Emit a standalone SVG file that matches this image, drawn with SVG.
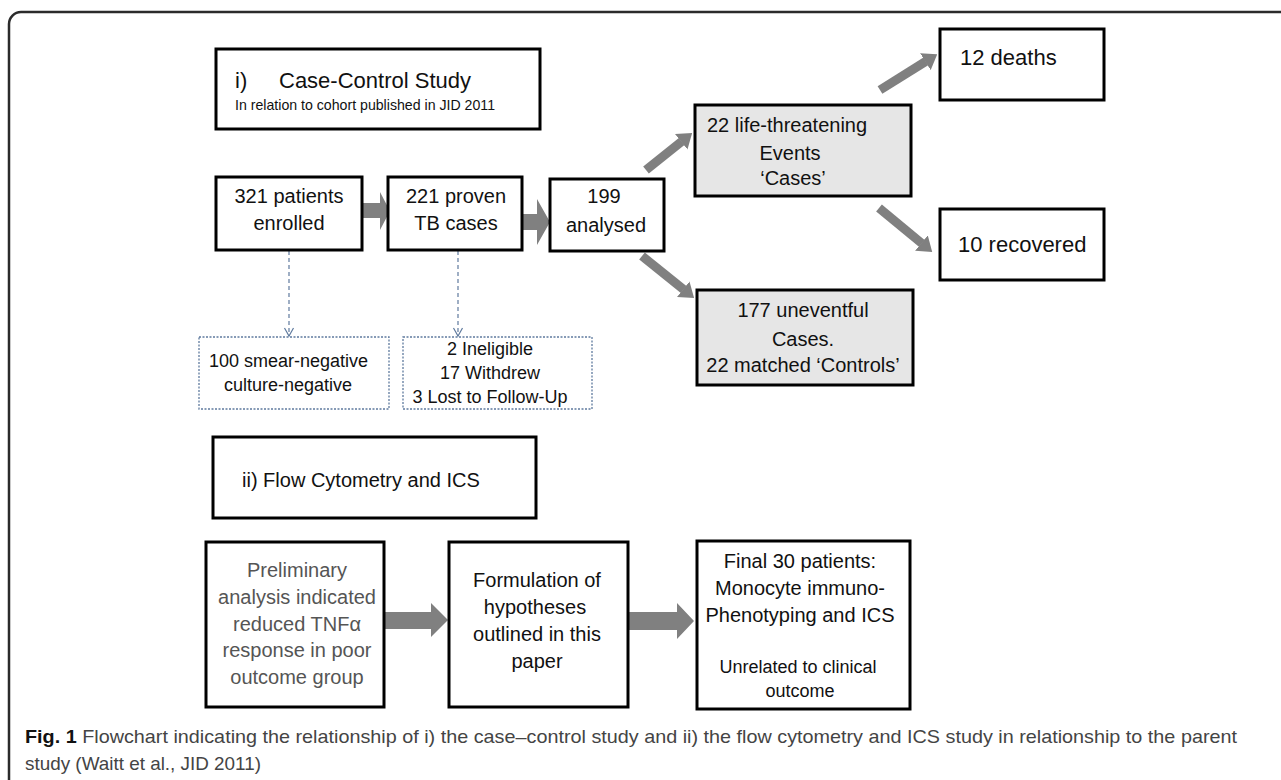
<svg xmlns="http://www.w3.org/2000/svg" width="1281" height="780" viewBox="0 0 1281 780">
<style>
text{font-family:"Liberation Sans",Arial,sans-serif;fill:#111}
.box{fill:#fff;stroke:#000;stroke-width:3}
.grey{fill:#e6e6e6;stroke:#000;stroke-width:3}
.dash{fill:#fff;stroke:#5f7a9e;stroke-width:1.3;stroke-dasharray:2 1.5}
.t20{font-size:20px}
.t22{font-size:22px}
.t18{font-size:18px}
.mid{text-anchor:middle}
.soft{fill:#555}
.blk{fill:#808080;stroke:none}
.diag{stroke:#808080;stroke-width:9;fill:none}
.dl{stroke:#5f7a9e;stroke-width:1.2;stroke-dasharray:4 3;fill:none}
.cap{font-size:19px;fill:#444}
</style>
<defs>
<marker id="head" markerUnits="userSpaceOnUse" markerWidth="14" markerHeight="20" viewBox="0 0 14 20" refX="0.5" refY="10" orient="auto">
<path d="M0,0 L14,10 L0,20 z" fill="#808080"/>
</marker>
<marker id="vee" markerUnits="userSpaceOnUse" markerWidth="12" markerHeight="12" viewBox="-10 -6 12 12" refX="0" refY="0" orient="auto">
<path d="M-8,-4.5 L0,0 L-8,4.5" fill="none" stroke="#5f7a9e" stroke-width="1.2"/>
</marker>
</defs>
<rect x="9" y="12" width="1300" height="800" rx="12" fill="none" stroke="#2b2b2b" stroke-width="2.5"/>

<g id="connectors">
<polygon class="blk" points="362,203 380,203 380,192 390,211 380,230 380,218 362,218"/>
<polygon class="blk" points="522,214 537,214 537,199 550,222 537,245 537,230 522,230"/>
<line class="diag" x1="646" y1="170" x2="681.6" y2="141.5" marker-end="url(#head)"/>
<line class="diag" x1="880" y1="90" x2="925.8" y2="61.4" marker-end="url(#head)"/>
<line class="diag" x1="879" y1="208" x2="921.8" y2="243.4" marker-end="url(#head)"/>
<line class="diag" x1="642" y1="256" x2="683.6" y2="289.5" marker-end="url(#head)"/>
<line class="dl" x1="289" y1="251" x2="289" y2="336" marker-end="url(#vee)"/>
<line class="dl" x1="458" y1="251" x2="458" y2="336" marker-end="url(#vee)"/>
<polygon class="blk" points="384,612 431,612 431,603 448,620 431,637 431,629 384,629"/>
<polygon class="blk" points="628,612 677,612 677,603 694,621 677,639 677,630 628,630"/>
</g>

<g id="title-i">
<rect class="box" x="216" y="49" width="324" height="80"/>
<text class="t22" x="235" y="88">i)</text>
<text class="t22" x="279" y="88">Case-Control Study</text>
<text x="235" y="110" font-size="15" textLength="260" lengthAdjust="spacingAndGlyphs">In relation to cohort published in JID 2011</text>
</g>

<g id="n321">
<rect class="box" x="216" y="177" width="146" height="73"/>
<text class="t20 mid" x="289" y="203">321 patients</text>
<text class="t20 mid" x="289" y="230">enrolled</text>
</g>

<g id="n221">
<rect class="box" x="388" y="177" width="134" height="73"/>
<text class="t20 mid" x="456" y="203">221 proven</text>
<text class="t20 mid" x="456" y="230">TB cases</text>
</g>

<g id="n199">
<rect class="box" x="550" y="179" width="114" height="72"/>
<text class="t20 mid" x="604" y="203">199</text>
<text class="t20 mid" x="606" y="232">analysed</text>
</g>

<g id="n22">
<rect class="grey" x="695" y="105" width="216" height="91"/>
<text class="t20" x="707" y="132">22 life-threatening</text>
<text class="t20 mid" x="790" y="160">Events</text>
<text class="t20 mid" x="793" y="185">‘Cases’</text>
</g>

<g id="n12">
<rect class="box" x="940" y="29" width="164" height="71"/>
<text class="t22" x="960" y="65">12 deaths</text>
</g>

<g id="n10">
<rect class="box" x="940" y="209" width="164" height="71"/>
<text class="t22" x="958" y="252">10 recovered</text>
</g>

<g id="n177">
<rect class="grey" x="697" y="290" width="216" height="95"/>
<text class="t20 mid" x="803" y="317">177 uneventful</text>
<text class="t20 mid" x="803" y="346">Cases.</text>
<text class="t20 mid" x="803" y="372">22 matched ‘Controls’</text>
</g>

<g id="n100">
<rect class="dash" x="199" y="337" width="190" height="72"/>
<text class="t18" x="209" y="367">100 smear-negative</text>
<text class="t18 mid" x="288" y="391">culture-negative</text>
</g>

<g id="nexcl">
<rect class="dash" x="403" y="337" width="189" height="72"/>
<text class="t18 mid" x="490" y="355">2 Ineligible</text>
<text class="t18 mid" x="490" y="379">17 Withdrew</text>
<text class="t18 mid" x="490" y="403">3 Lost to Follow-Up</text>
</g>

<g id="title-ii">
<rect class="box" x="213" y="437" width="323" height="81"/>
<text class="t20" x="242" y="487">ii) Flow Cytometry and ICS</text>
</g>

<g id="nprelim">
<rect class="box" x="206" y="542" width="178" height="165"/>
<text class="t20 mid soft" x="297" y="577">Preliminary</text>
<text class="t20 mid soft" x="297" y="604">analysis indicated</text>
<text class="t20 mid soft" x="297" y="631">reduced  TNFα</text>
<text class="t20 mid soft" x="297" y="657">response  in poor</text>
<text class="t20 mid soft" x="297" y="684">outcome group</text>
</g>

<g id="nform">
<rect class="box" x="449" y="542" width="179" height="165"/>
<text class="t20 mid" x="537" y="587">Formulation of</text>
<text class="t20 mid" x="535" y="614">hypotheses</text>
<text class="t20 mid" x="537" y="641">outlined in this</text>
<text class="t20 mid" x="537" y="668">paper</text>
</g>

<g id="nfinal">
<rect class="box" x="697" y="541" width="213" height="168"/>
<text class="t20 mid" x="800" y="568">Final 30 patients:</text>
<text class="t20 mid" x="800" y="595">Monocyte immuno-</text>
<text class="t20 mid" x="800" y="622">Phenotyping and ICS</text>
<text class="t18 mid" x="798" y="673">Unrelated to clinical</text>
<text class="t18 mid" x="800" y="697">outcome</text>
</g>

<g id="caption">
<text class="cap" x="25" y="743" textLength="1212" lengthAdjust="spacingAndGlyphs"><tspan font-weight="bold" fill="#111">Fig. 1</tspan> Flowchart indicating the relationship of i) the case–control study and ii) the flow cytometry and ICS study in relationship to the parent</text>
<text class="cap" x="25" y="770" textLength="236" lengthAdjust="spacingAndGlyphs">study (Waitt et al., JID 2011)</text>
</g>
</svg>
